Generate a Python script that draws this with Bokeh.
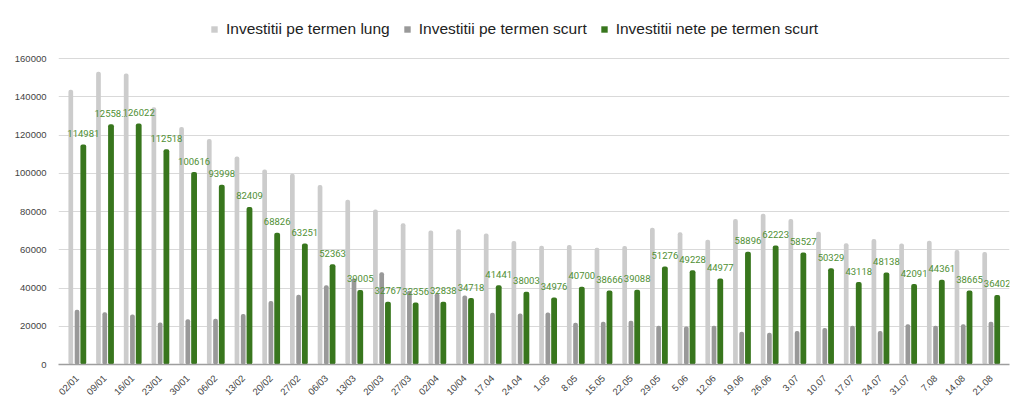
import math
from bokeh.plotting import figure
from bokeh.models import ColumnDataSource, FactorRange, Range1d, FixedTicker, BasicTickFormatter, Legend, LegendItem
from bokeh.transform import dodge
from bokeh.core.properties import value
from bokeh.embed import file_html
from bokeh.resources import INLINE

categories = ["02/01", "09/01", "16/01", "23/01", "30/01", "06/02", "13/02", "20/02", "27/02",
              "06/03", "13/03", "20/03", "27/03", "02/04", "10/04", "17.04", "24.04", "1.05",
              "8.05", "15.05", "22.05", "29.05", "5.06", "12.06", "19.06", "26.06", "3.07",
              "10.07", "17.07", "24.07", "31.07", "7.08", "14.08", "21.08"]

long_term = [143600, 153100, 152200, 134500, 124200, 117900, 108800, 101900, 99800,
             93800, 86200, 81100, 73800, 70100, 70700, 68500, 64600, 62100,
             62500, 61100, 62000, 71500, 69100, 65200, 76100, 78800, 76100,
             69400, 63400, 65600, 63300, 64700, 59900, 58800]

short_term = [28600, 27300, 26100, 22000, 23600, 23900, 26400, 33200, 36500,
              41400, 45000, 48300, 38500, 37200, 36100, 27100, 26700, 27200,
              21800, 22400, 22900, 20200, 19900, 20200, 17100, 16600, 17500,
              19100, 20200, 17500, 21100, 20200, 21100, 22300]

net_short = [114981, 125581, 126022, 112518, 100616, 93998, 82409, 68826, 63251,
             52363, 39005, 32767, 32356, 32838, 34718, 41441, 38003, 34976,
             40700, 38666, 39088, 51276, 49228, 44977, 58896, 62223, 58527,
             50329, 43118, 48138, 42091, 44361, 38665, 36402]

net_labels = [str(v) for v in net_short]
net_labels[1] = "12558\u2026"

y_ticks = [0, 20000, 40000, 60000, 80000, 100000, 120000, 140000, 160000]

series_names = ["Investitii pe termen lung", "Investitii pe termen scurt", "Investitii nete pe termen scurt"]

src = ColumnDataSource(dict(cat=categories, long=long_term, short=short_term,
                            net=net_short, lab=net_labels))

# frame spans the whole canvas height above the x axis so the legend (drawn inside
# the frame) is not clipped; 160000 sits 306 px above zero, frame is 364 px tall
y_top = 160000 * 364 / 306

p = figure(width=1030, height=410, output_backend="svg", toolbar_location=None,
           x_range=FactorRange(factors=categories, range_padding=0.17, range_padding_units="absolute"),
           y_range=Range1d(0, y_top),
           min_border_left=58, min_border_right=21, min_border_top=0, min_border_bottom=46)

p.outline_line_color = None
p.background_fill_color = "white"
p.border_fill_color = "white"

r1 = p.vbar(x=dodge("cat", -0.226, range=p.x_range), top="long", width=0.17, source=src,
            fill_color="#cccccc", line_color=None, border_radius=2)
r2 = p.vbar(x=dodge("cat", 0.0, range=p.x_range), top="short", width=0.17, source=src,
            fill_color="#999999", line_color=None, border_radius=2)
r3 = p.vbar(x=dodge("cat", 0.226, range=p.x_range), top="net", width=0.21, source=src,
            fill_color="#38761d", line_color=None, border_radius=2)

p.text(x=dodge("cat", 0.226, range=p.x_range), y="net", text="lab", source=src,
       text_align="center", text_baseline="alphabetic", y_offset=-11,
       text_font=value("Roboto"), text_font_size="9.5px", text_color="#4f8f34")

p.yaxis.ticker = FixedTicker(ticks=y_ticks)
p.yaxis.formatter = BasicTickFormatter(use_scientific=False)
p.yaxis.axis_line_color = None
p.yaxis.major_tick_line_color = None
p.yaxis.minor_tick_line_color = None
p.yaxis.major_label_text_font = "Liberation Sans"
p.yaxis.major_label_text_font_size = "9.5px"
p.yaxis.major_label_text_color = "#444444"
p.yaxis.major_label_standoff = 6

p.xaxis.axis_line_color = "#9e9e9e"
p.xaxis.axis_line_width = 1.5
p.xaxis.major_tick_line_color = None
p.xaxis.minor_tick_line_color = None
p.xaxis.major_label_orientation = math.pi / 4
p.xaxis.major_label_text_font = "Liberation Sans"
p.xaxis.major_label_text_font_size = "9.5px"
p.xaxis.major_label_text_color = "#444444"
p.xaxis.major_label_standoff = 6

p.xgrid.grid_line_color = None
p.ygrid.grid_line_color = "#d9d9d9"
p.ygrid.grid_line_width = 1

legend = Legend(items=[LegendItem(label=series_names[0], renderers=[r1]),
                       LegendItem(label=series_names[1], renderers=[r2]),
                       LegendItem(label=series_names[2], renderers=[r3])],
                orientation="horizontal", location=(152, 326),
                glyph_width=8, glyph_height=8, label_standoff=8, spacing=13,
                padding=0, margin=0, border_line_color=None, background_fill_alpha=0,
                label_text_font="Liberation Sans", label_text_font_size="15.5px",
                label_text_color="#222222", label_height=16)
p.add_layout(legend, "center")

open("out.html", "w").write(file_html(p, INLINE))
